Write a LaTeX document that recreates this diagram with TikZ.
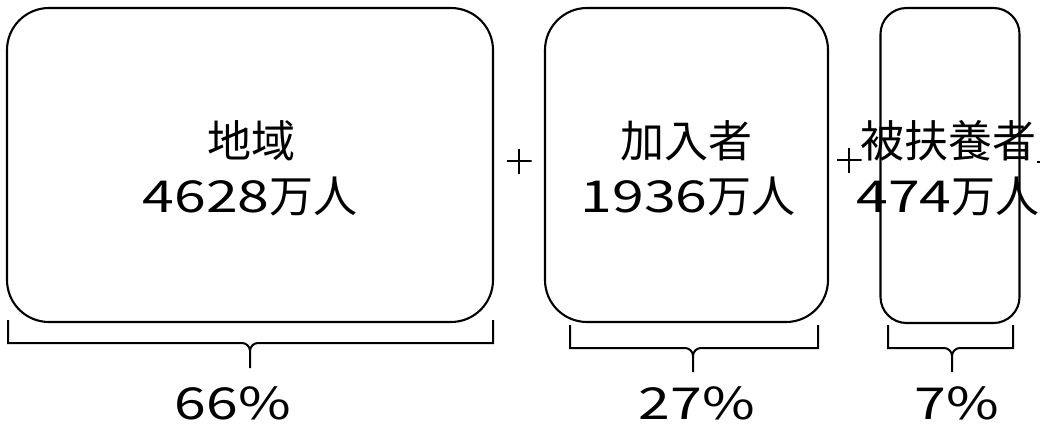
\documentclass[tikz,border=0pt]{standalone}
\usepackage{fontspec}
\newfontfamily\jp{Noto Sans CJK JP}
\newfontfamily\dg[FakeStretch=1.3]{Noto Sans CJK JP}
\usetikzlibrary{calc}
\newcommand\mybrace[6]{%
  \draw[brc] (#1,#4) -- (#1,#5) -- ({#3-8},#5) to[out=0,in=90] (#3,{#5+8}) -- (#3,#6);
  \draw[brc] (#2,#4) -- (#2,#5) -- ({#3+8},#5) to[out=180,in=90] (#3,{#5+8});
}
\begin{document}
\begin{tikzpicture}[x=1pt,y=-1pt]
\tikzset{
  box/.style={draw, line width=2.1pt, rounded corners=#1, inner sep=0pt},
  lbl/.style={font=\fontsize{44}{44}\selectfont\jp, anchor=base, inner sep=0pt},
  pls/.style={minimum size=25pt, inner sep=0pt,
    path picture={\draw[line width=1.6pt]
      (path picture bounding box.west) -- (path picture bounding box.east)
      (path picture bounding box.north) -- (path picture bounding box.south);}},
  brc/.style={line width=2pt, line join=miter},
}
\useasboundingbox (0,0) rectangle (1040,429);
\fill[white] (0,0) rectangle (1040,429);
% boxes
\node[box=42pt, minimum width=486pt, minimum height=314pt] (b1) at (250,165) {};
\node[box=42pt, minimum width=283pt, minimum height=314pt] (b2) at (686.5,165) {};
\node[box=26pt, minimum width=139pt, minimum height=315pt] (b3) at (950,165.5) {};
% texts
\node[lbl] (t1a) at (251,157) {地域};
\node[lbl] (t1b) at (250,212) {{\dg 4628}万人};
\node[lbl] (t2a) at (686,157) {加入者};
\node[lbl] (t2b) at (688,212) {{\dg 1936}万人};
\node[lbl] (t3a) at (948,157) {被扶養者};
\node[lbl] (t3b) at (948,212) {{\dg 474}万人};
% plus signs
\node[pls] (p1) at (519,161) {};
\node[pls] (p2) at (849,160) {};
\node[pls] (p3) at (1049,162) {};
% braces
\mybrace{8}{493}{250}{320}{343}{368}
\mybrace{570}{818}{693}{325}{348}{372}
\mybrace{888}{1013}{952}{325}{348}{372}
% percentages
\node[lbl] (q1) at (233,419) {{\dg 66\%}};
\node[lbl] (q2) at (697,419) {{\dg 27\%}};
\node[lbl] (q3) at (957,419) {{\dg 7\%}};
\end{tikzpicture}
\end{document}
